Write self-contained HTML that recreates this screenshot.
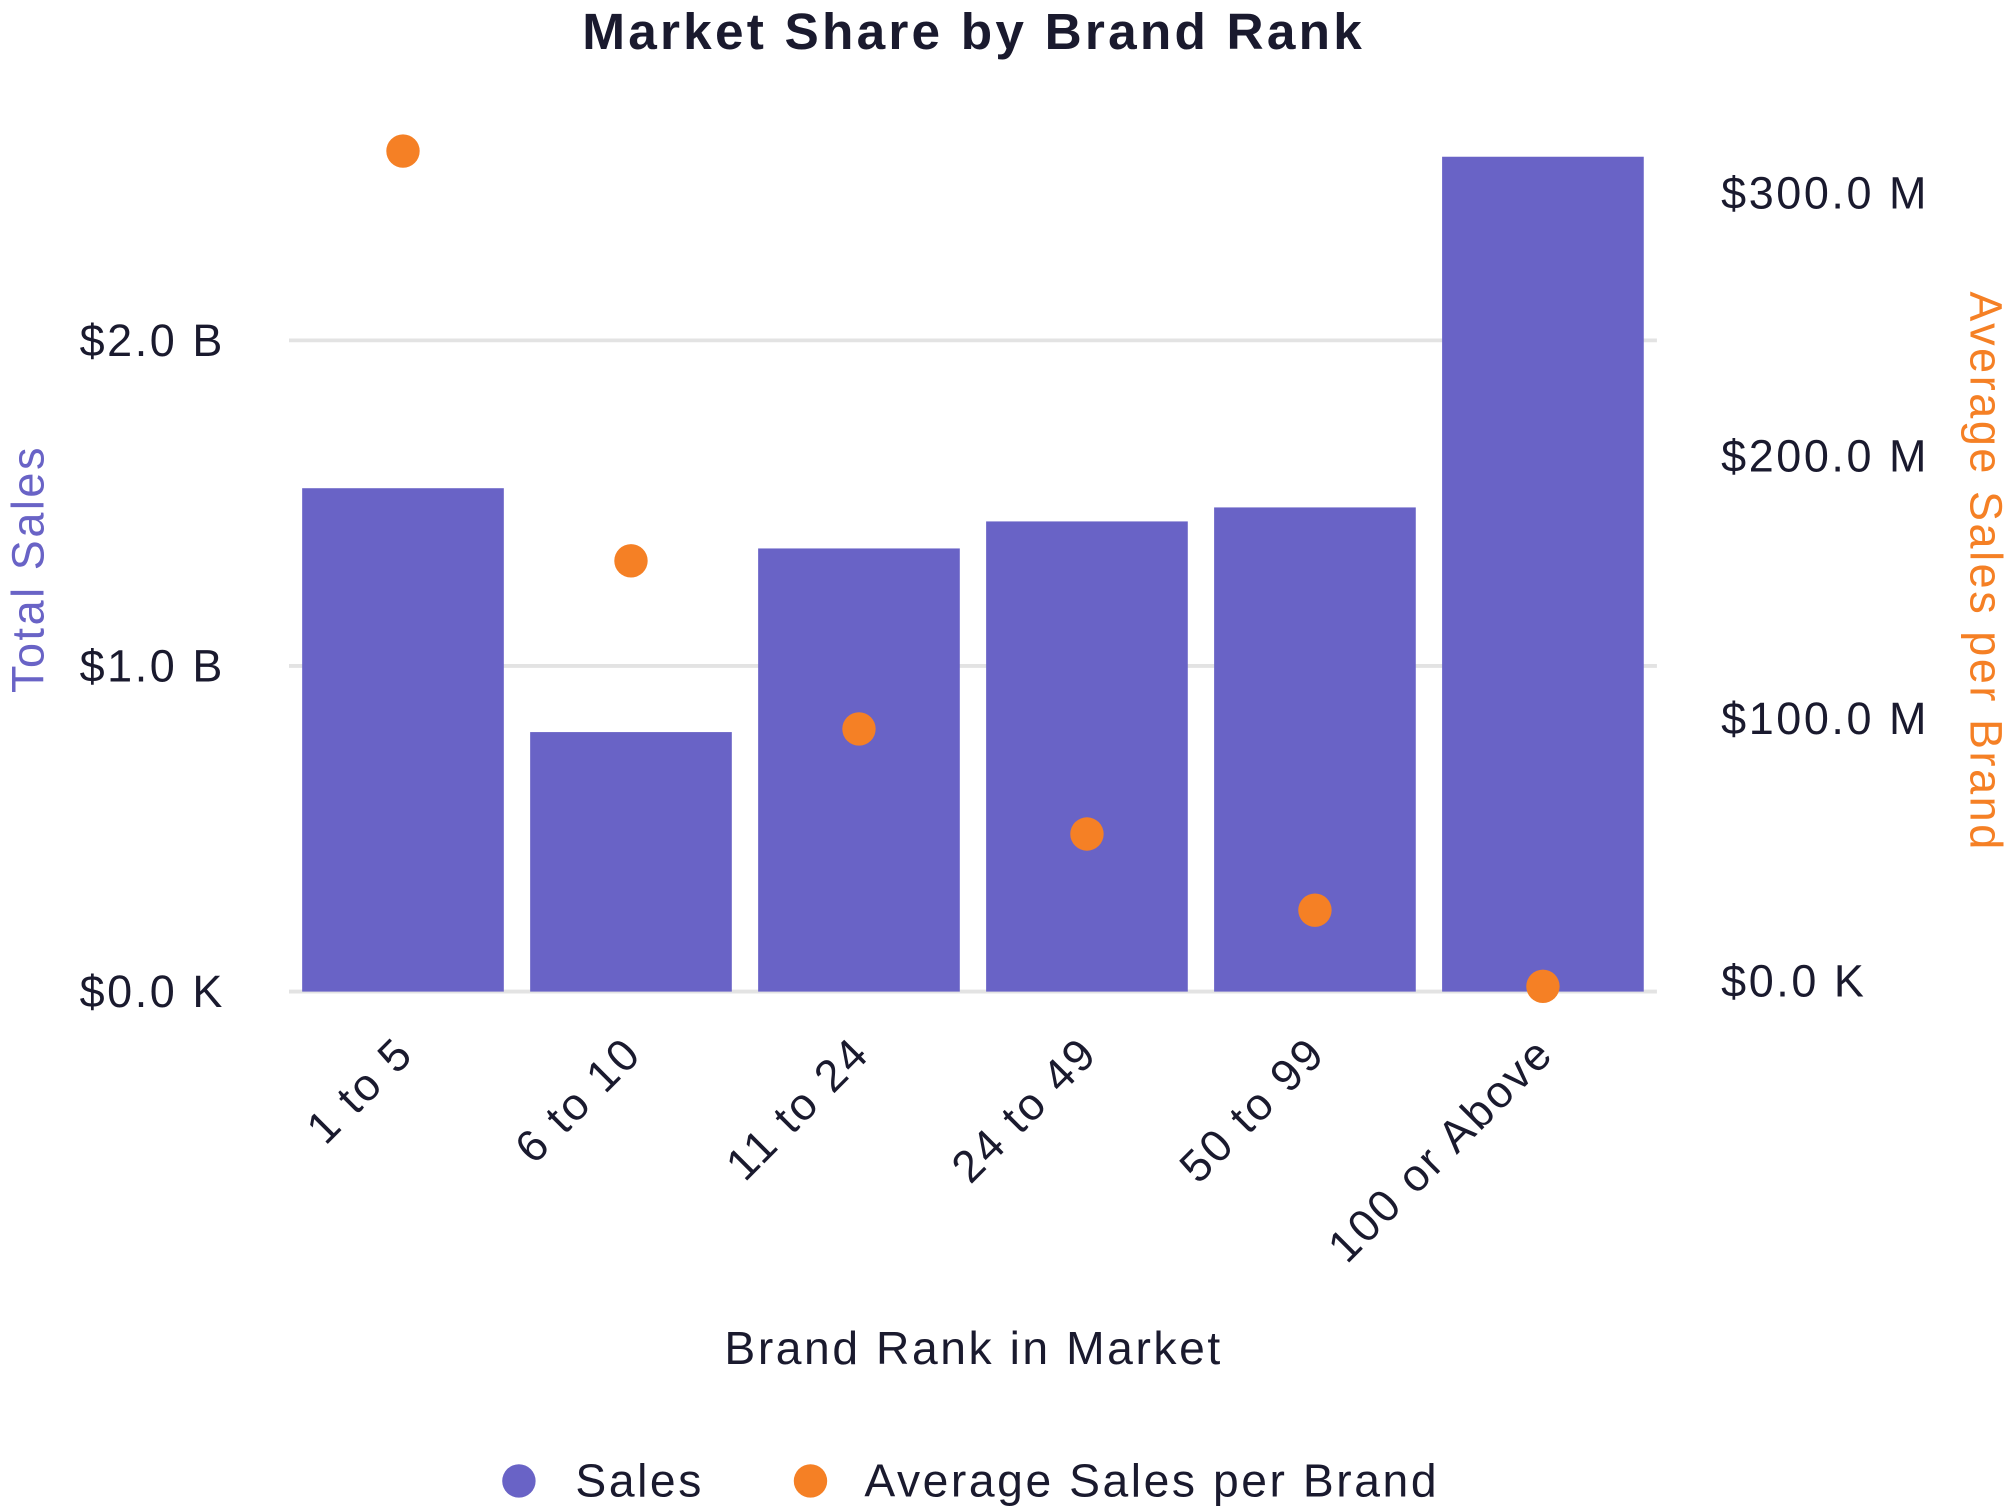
<!DOCTYPE html>
<html><head><meta charset="utf-8"><style>
html,body{margin:0;padding:0;background:#fff;}
svg{display:block;font-family:"Liberation Sans",sans-serif;}
svg text{letter-spacing:2px;}
</style></head><body>
<svg id="chart" width="2014" height="1510" viewBox="0 0 1568 1175.6" xmlns="http://www.w3.org/2000/svg">
<text x="758" y="38" text-anchor="middle" font-size="40" font-weight="bold" fill="#1a1a2e" style="letter-spacing:2.5px">Market Share by Brand Rank</text>
<g id="grid"></g><g id="bars"></g><g id="dots"></g><g id="axes"></g>
<text transform="translate(34,443) rotate(-90)" text-anchor="middle" font-size="35" fill="#6963c6">Total Sales</text>
<text transform="translate(1534,445) rotate(90)" text-anchor="middle" font-size="35" fill="#f58025">Average Sales per Brand</text>
<text x="758" y="1062" text-anchor="middle" font-size="36" fill="#1a1a2e">Brand Rank in Market</text>
<g>
<circle cx="404" cy="1153" r="13" fill="#6963c6"/>
<text x="448" y="1165" font-size="36" fill="#1a1a2e">Sales</text>
<circle cx="631" cy="1153" r="13" fill="#f58025"/>
<text x="673" y="1165" font-size="36" fill="#1a1a2e">Average Sales per Brand</text>
</g>
</svg>
<script>
const categories=["1 to 5","6 to 10","11 to 24","24 to 49","50 to 99","100 or Above"];
const salesB=[1.546,0.797,1.361,1.444,1.487,2.564];
const avgM=[320,164,100,60,31,2];
const leftTicks=[0,1,2];
const leftTickLabels=["$0.0 K","$1.0 B","$2.0 B"];
const rightTicks=[0,100,200,300];
const rightTickLabels=["$0.0 K","$100.0 M","$200.0 M","$300.0 M"];
const NS="http://www.w3.org/2000/svg";
const X0=225,X1=1290,Y0=772;
const band=(X1-X0)/categories.length;
const xC=i=>X0+band*(i+0.5);
const yL=v=>Y0-v*253.5;
const yR=v=>Y0-v*2.045;
function mk(tag,attrs,parent){const e=document.createElementNS(NS,tag);for(const k in attrs)e.setAttribute(k,attrs[k]);document.getElementById(parent).appendChild(e);return e;}
leftTicks.forEach((t,i)=>{
 const l=mk('line',{x1:X0,x2:X1,y1:yL(t),y2:yL(t),stroke:'#e3e3e3','stroke-width':3},'grid');
 
 
 const tx=mk('text',{x:62,y:yL(t)+12,'font-size':35,fill:'#1a1a2e'},'axes');
 tx.textContent=leftTickLabels[i];
 
 
});
rightTicks.forEach((t,i)=>{
 const tx=mk('text',{x:1340,y:yR(t)+4,'font-size':35,fill:'#1a1a2e'},'axes');
 tx.textContent=rightTickLabels[i];
 
 
});
categories.forEach((c,i)=>{
 const w=157;
 const b=mk('rect',{x:xC(i)-w/2,y:yL(salesB[i]),width:w,height:Y0-yL(salesB[i]),fill:'#6963c6'},'bars');
 
 
 const d=mk('circle',{cx:xC(i),cy:yR(avgM[i]),r:13,fill:'#f58025'},'dots');
 
 
 const tx=mk('text',{transform:`translate(${xC(i)+10},${Y0+50}) rotate(-45)`,'text-anchor':'end','font-size':35,fill:'#1a1a2e'},'axes');
 tx.textContent=c;
 
 
});
</script>
</body></html>
